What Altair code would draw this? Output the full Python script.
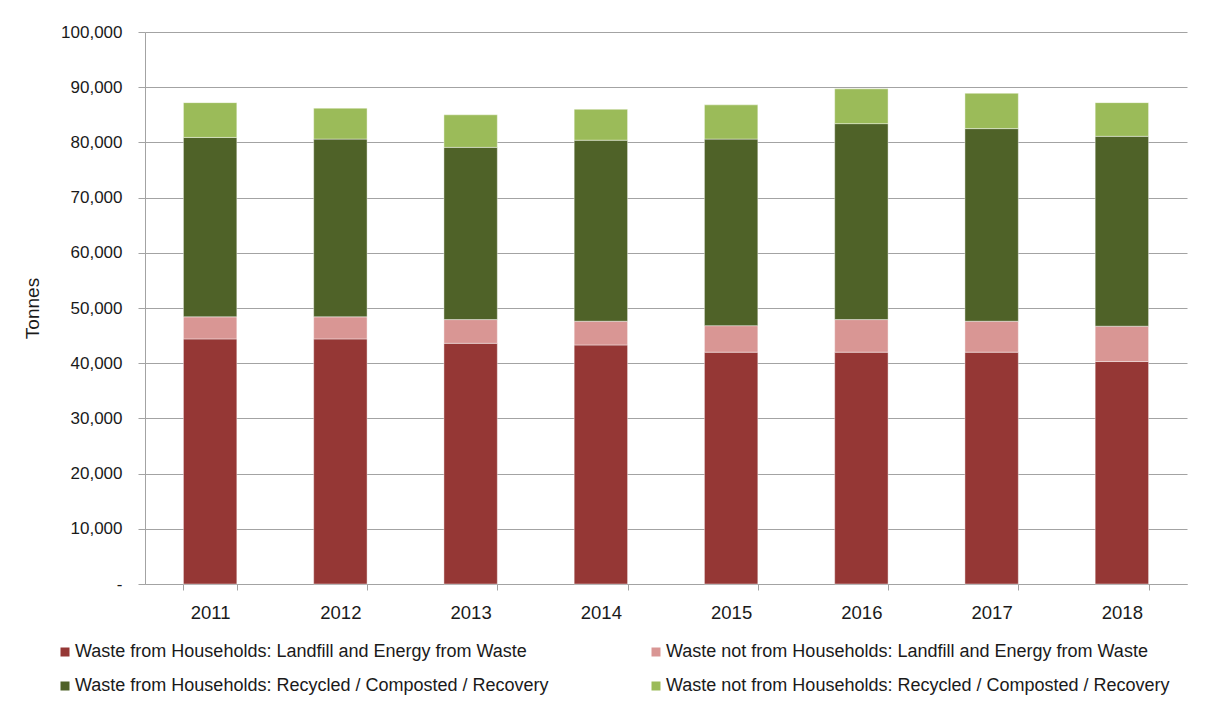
import altair as alt
import pandas as pd

years = ["2011", "2012", "2013", "2014", "2015", "2016", "2017", "2018"]
series = [
    "Waste from Households: Landfill and Energy from Waste",
    "Waste not from Households: Landfill and Energy from Waste",
    "Waste from Households: Recycled / Composted / Recovery",
    "Waste not from Households: Recycled / Composted / Recovery",
]
hh_landfill = [44400, 44400, 43600, 43300, 42000, 42000, 42000, 40300]
nonhh_landfill = [4000, 4000, 4300, 4300, 4800, 5900, 5600, 6400]
hh_recycled = [32500, 32200, 31200, 32800, 33800, 35500, 34900, 34400]
nonhh_recycled = [6300, 5600, 5900, 5600, 6200, 6300, 6400, 6100]
colors = ["#953735", "#D99694", "#4F6228", "#9BBB59"]
y_ticks = list(range(0, 100001, 10000))

rows = []
for k, (s, vals) in enumerate(zip(series, [hh_landfill, nonhh_landfill, hh_recycled, nonhh_recycled])):
    for i, yr in enumerate(years):
        rows.append({"Year": yr, "Series": s, "Tonnes": vals[i], "order": k})
df = pd.DataFrame(rows)

font = "Liberation Sans"
txt = "#1a1a1a"
gray = "#A3A3A3"

chart = alt.Chart(df).mark_bar(stroke="white", strokeWidth=0.6, strokeOpacity=0.7).encode(
    x=alt.X(
        "Year:N", sort=years,
        scale=alt.Scale(paddingInner=0.59, paddingOuter=0.295),
        axis=alt.Axis(
            title=None, labelAngle=0, labelFont=font, labelFontSize=18.5, labelColor=txt,
            labelPadding=13, tickSize=6, tickBand="extent", tickColor=gray, domainColor=gray,
            grid=False,
        ),
    ),
    y=alt.Y(
        "Tonnes:Q", stack="zero",
        scale=alt.Scale(domain=[0, 100000], nice=False),
        axis=alt.Axis(
            values=y_ticks,
            labelExpr="datum.value == 0 ? '-' : format(datum.value, ',')",
            labelFont=font, labelFontSize=17, labelColor=txt, labelPadding=16,
            tickSize=7, tickColor=gray, domainColor=gray, gridColor=gray, gridWidth=1,
            title="Tonnes", titleFont=font, titleFontSize=19, titleFontWeight="normal",
            titleColor=txt, titlePadding=18,
        ),
    ),
    color=alt.Color(
        "Series:N", sort=series,
        scale=alt.Scale(domain=series, range=colors),
        legend=alt.Legend(
            title=None, orient="none", legendX=-89, legendY=611, direction="horizontal",
            columns=2, columnPadding=98, rowPadding=16, symbolType="square",
            symbolSize=81, symbolStrokeWidth=0, labelFont=font, labelFontSize=18,
            labelColor=txt, labelOffset=1, labelLimit=0,
        ),
    ),
    order=alt.Order("order:Q", sort="ascending"),
).properties(
    width=1042, height=552,
    autosize=alt.AutoSizeParams(type="none"),
    padding={"left": 137, "top": 24, "right": 10, "bottom": 112},
).configure_view(stroke=None)

chart.save("out.html", embed_options={"renderer": "svg", "actions": False})
